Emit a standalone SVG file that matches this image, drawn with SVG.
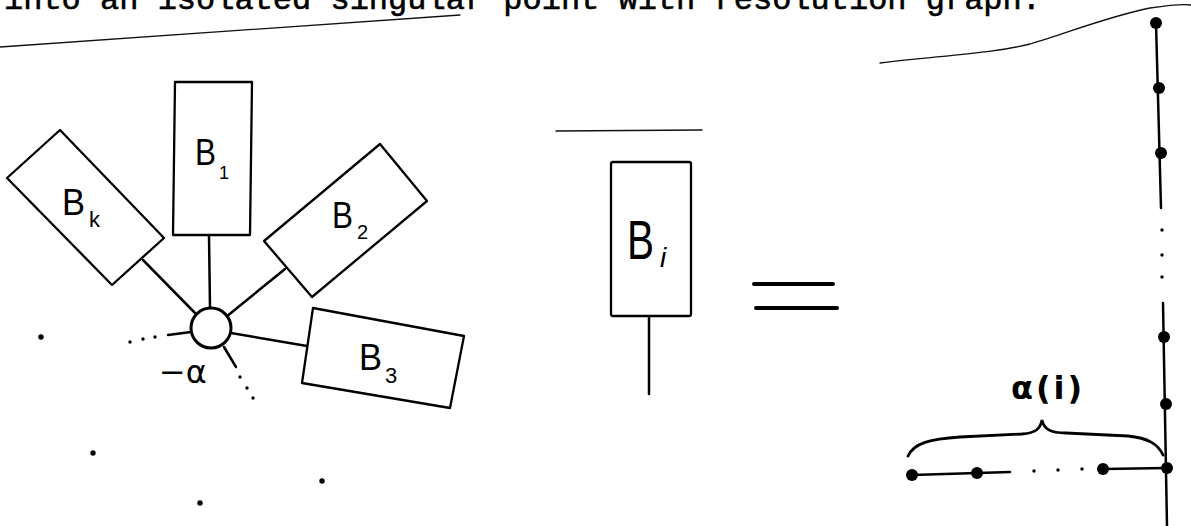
<svg xmlns="http://www.w3.org/2000/svg" width="1191" height="526" viewBox="0 0 1191 526">
<style>
.box{fill:#fff;stroke:#000;stroke-width:2.3;stroke-linejoin:round}
.edge{fill:none;stroke:#000;stroke-width:2.5;stroke-linecap:round}
.thin{fill:none;stroke:#111;stroke-width:1.3;stroke-linecap:round}
.lbl{font-family:"Liberation Sans",Arial,sans-serif;fill:#000}
.dot{fill:#000}
.head{font-family:"Liberation Mono","Courier New",monospace;font-size:32px;fill:#000;stroke:#000;stroke-width:0.6}
</style>
<rect width="1191" height="526" fill="#fff"/>
<text class="head" x="4" y="9">into an isolated singular point with resolution graph.</text>
<path class="thin" d="M0,47 Q230,30 460,15"/>
<path class="thin" d="M880,63 C950,55 1000,52 1030,44 C1070,32 1110,16 1150,8 C1170,5 1185,4 1191,5"/>
<path class="thin" d="M556,131 L702,130"/>

<g id="connectors">
<line class="edge" x1="209" y1="235" x2="210" y2="308"/>
<line class="edge" x1="143" y1="260" x2="195" y2="313"/>
<line class="edge" x1="285" y1="269" x2="226" y2="317"/>
<line class="edge" x1="231" y1="333" x2="307" y2="346"/>
<line class="edge" x1="191" y1="332" x2="168" y2="335"/>
<line class="edge" x1="224" y1="347" x2="236" y2="367"/>
<line class="edge" x1="649" y1="316" x2="649" y2="394"/>
</g>

<g id="ellipsis-dots">
<circle class="dot" cx="155" cy="337" r="1.7"/>
<circle class="dot" cx="143" cy="339" r="1.7"/>
<circle class="dot" cx="130" cy="342" r="1.7"/>
<circle class="dot" cx="240" cy="377" r="1.7"/>
<circle class="dot" cx="247" cy="388" r="1.7"/>
<circle class="dot" cx="253" cy="398" r="1.7"/>
<circle class="dot" cx="41" cy="337" r="2.7"/>
<circle class="dot" cx="93" cy="453" r="2.7"/>
<circle class="dot" cx="200" cy="503" r="2.7"/>
<circle class="dot" cx="322" cy="481" r="2.7"/>
</g>

<g id="center">
<circle cx="211" cy="328" r="20" fill="#fff" stroke="#000" stroke-width="3"/>
<text x="159" y="383" style="font-family:'DejaVu Sans',sans-serif;font-size:32px">−α</text>
</g>

<g id="B1">
<polygon class="box" points="175,82 252,82 250,235 173,235"/>
<text class="lbl"><tspan x="195" y="165" font-size="36" textLength="21" lengthAdjust="spacingAndGlyphs">B</tspan><tspan x="219" y="179" font-size="18">1</tspan></text>
</g>
<g id="Bk">
<polygon class="box" points="60,130 164,238 112,285 7,178"/>
<text class="lbl"><tspan x="62" y="215" font-size="36" textLength="23" lengthAdjust="spacingAndGlyphs">B</tspan><tspan x="89" y="227" font-size="22">k</tspan></text>
</g>
<g id="B2">
<polygon class="box" points="380,144 427,201 312,297 264,241"/>
<text class="lbl"><tspan x="332" y="228" font-size="36" textLength="21" lengthAdjust="spacingAndGlyphs">B</tspan><tspan x="357" y="239" font-size="20">2</tspan></text>
</g>
<g id="B3">
<polygon class="box" points="313,308 464,336 450,408 302,383"/>
<text class="lbl"><tspan x="359" y="370" font-size="37" textLength="23" lengthAdjust="spacingAndGlyphs">B</tspan><tspan x="385" y="383" font-size="22">3</tspan></text>
</g>
<g id="Bi">
<rect class="box" x="611" y="162" width="80" height="154" rx="2"/>
<text class="lbl"><tspan x="627" y="259" font-size="56" textLength="27" lengthAdjust="spacingAndGlyphs">B</tspan><tspan x="660" y="267" font-size="28" font-style="italic">i</tspan></text>
</g>

<g id="equals">
<line x1="754" y1="284" x2="833" y2="284" stroke="#000" stroke-width="4" stroke-linecap="round"/>
<line x1="756" y1="308" x2="837" y2="308" stroke="#000" stroke-width="4" stroke-linecap="round"/>
</g>

<g id="chain">
<path class="edge" d="M1156,23 L1161,208"/>
<path class="edge" d="M1163,303 L1167,526"/>
<path class="edge" d="M912,475 L1010,472"/>
<path class="edge" d="M1103,469 L1167,468"/>
<circle class="dot" cx="1156" cy="23" r="6"/>
<circle class="dot" cx="1159" cy="88" r="6"/>
<circle class="dot" cx="1161" cy="153" r="6"/>
<circle class="dot" cx="1162" cy="230" r="1.7"/>
<circle class="dot" cx="1162" cy="255" r="1.7"/>
<circle class="dot" cx="1162" cy="277" r="1.7"/>
<circle class="dot" cx="1164" cy="337" r="6"/>
<circle class="dot" cx="1166" cy="404" r="6"/>
<circle class="dot" cx="1167" cy="468" r="6"/>
<circle class="dot" cx="912" cy="475" r="6"/>
<circle class="dot" cx="977" cy="473" r="6"/>
<circle class="dot" cx="1103" cy="469" r="6"/>
<circle class="dot" cx="1034" cy="471" r="1.7"/>
<circle class="dot" cx="1058" cy="470" r="1.7"/>
<circle class="dot" cx="1082" cy="469" r="1.7"/>
<path fill="none" stroke="#000" stroke-width="2.8" stroke-linecap="round" d="M908,456 C914,443 930,439 960,437 L1022,434 C1036,433 1040,429 1042,420 C1044,429 1050,433 1066,433 L1128,436 C1148,438 1158,444 1163,455"/>
<text x="1048" y="399" text-anchor="middle" style="font-family:'DejaVu Sans',sans-serif;font-size:32px;font-weight:bold;letter-spacing:3px">α(i)</text>
</g>
</svg>
